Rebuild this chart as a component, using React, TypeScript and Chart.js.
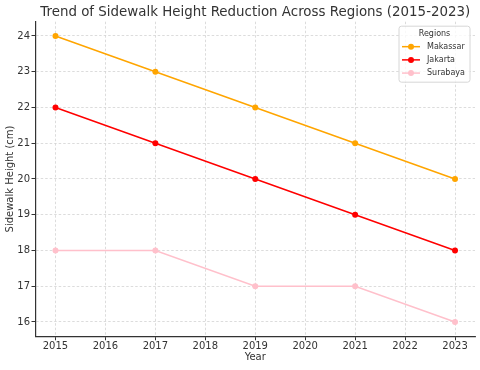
import React, { useEffect, useRef } from "react";
import { Chart, registerables } from "chart.js";

Chart.register(...registerables);

const years = [2015, 2017, 2019, 2021, 2023];
const makassar = [24, 23, 22, 21, 20];
const jakarta = [22, 21, 20, 19, 18];
const surabaya = [18, 18, 17, 17, 16];
const xTicks = [2015, 2016, 2017, 2018, 2019, 2020, 2021, 2022, 2023];
const yTicks = [16, 17, 18, 19, 20, 21, 22, 23, 24];
const seriesNames = ["Makassar", "Jakarta", "Surabaya"];
const seriesColors = ["#FFA500", "#FF0000", "#FFC0CB"];
const titleText = "Trend of Sidewalk Height Reduction Across Regions (2015-2023)";
const legendTitle = "Regions";

const FONT = "'DejaVu Sans', sans-serif";

const legendPlugin = {
  id: "mplLegend",
  afterDraw(chart: any) {
    const ctx = chart.ctx;
    const area = chart.chartArea;
    const w = 71;
    const h = 56;
    const x = area.right - 5 - w;
    const y = area.top + 4.5;
    ctx.save();
    ctx.beginPath();
    const r = 2.5;
    ctx.moveTo(x + r, y);
    ctx.lineTo(x + w - r, y);
    ctx.quadraticCurveTo(x + w, y, x + w, y + r);
    ctx.lineTo(x + w, y + h - r);
    ctx.quadraticCurveTo(x + w, y + h, x + w - r, y + h);
    ctx.lineTo(x + r, y + h);
    ctx.quadraticCurveTo(x, y + h, x, y + h - r);
    ctx.lineTo(x, y + r);
    ctx.quadraticCurveTo(x, y, x + r, y);
    ctx.closePath();
    ctx.fillStyle = "rgba(255,255,255,0.8)";
    ctx.fill();
    ctx.strokeStyle = "#d6d6d6";
    ctx.lineWidth = 1;
    ctx.stroke();

    ctx.font = `8px ${FONT}`;
    ctx.fillStyle = "#333";
    ctx.textBaseline = "middle";
    ctx.textAlign = "center";
    ctx.fillText(legendTitle, x + w / 2, y + 8);

    ctx.textAlign = "left";
    seriesNames.forEach((name, i) => {
      const cy = y + 20.5 + i * 13.2;
      const lx = x + 3;
      ctx.strokeStyle = seriesColors[i];
      ctx.lineWidth = 1.5;
      ctx.beginPath();
      ctx.moveTo(lx, cy);
      ctx.lineTo(lx + 18, cy);
      ctx.stroke();
      ctx.fillStyle = seriesColors[i];
      ctx.beginPath();
      ctx.arc(lx + 9, cy, 3, 0, Math.PI * 2);
      ctx.fill();
      ctx.fillStyle = "#333";
      ctx.fillText(name, lx + 25, cy);
    });
    ctx.restore();
  },
};

export default function App() {
  const ref = useRef<HTMLCanvasElement | null>(null);

  useEffect(() => {
    if (!ref.current) return;
    const allSeries = [makassar, jakarta, surabaya];
    const chart = new Chart(ref.current, {
      type: "line",
      data: {
        datasets: allSeries.map((vals, i) => ({
          label: seriesNames[i],
          data: years.map((yr, j) => ({ x: yr, y: vals[j] })),
          borderColor: seriesColors[i],
          backgroundColor: seriesColors[i],
          pointBackgroundColor: seriesColors[i],
          pointBorderWidth: 0,
          pointRadius: 3,
          borderWidth: 1.5,
          tension: 0,
          fill: false,
        })),
      },
      options: {
        animation: false,
        responsive: false,
        devicePixelRatio: 1,
        layout: { padding: { left: 0, right: 5, top: 0, bottom: 0 } },
        plugins: {
          legend: { display: false },
          tooltip: { enabled: false },
          title: {
            display: true,
            text: titleText,
            fullSize: false,
            color: "#333",
            font: { family: FONT, size: 13.4, weight: "normal", lineHeight: 1.2 },
            padding: { top: 4, bottom: 1.6 },
          },
        },
        scales: {
          x: {
            type: "linear",
            min: 2014.6,
            max: 2023.4,
            afterBuildTicks: (scale: any) => {
              scale.ticks = xTicks.map((v) => ({ value: v }));
            },
            afterFit: (scale: any) => {
              scale.height = 33.7;
            },
            ticks: {
              color: "#333",
              font: { family: FONT, size: 10 },
              padding: 0,
              maxRotation: 0,
              autoSkip: false,
              callback: (v: any) => String(v),
            },
            grid: {
              color: "#d3d3d3",
              lineWidth: 0.8,
              tickColor: "#333",
              tickLength: 4,
              tickWidth: 1,
              tickBorderDash: [],
            },
            border: { display: true, color: "#333", width: 1.2, dash: [2.5, 2] },
            title: {
              display: true,
              text: "Year",
              color: "#333",
              font: { family: FONT, size: 10, lineHeight: 1.2 },
              padding: { top: 0, bottom: 7 },
            },
          },
          y: {
            type: "linear",
            min: 15.6,
            max: 24.4,
            afterBuildTicks: (scale: any) => {
              scale.ticks = yTicks.map((v) => ({ value: v }));
            },
            afterFit: (scale: any) => {
              scale.width = 35.5;
            },
            ticks: {
              color: "#333",
              font: { family: FONT, size: 10 },
              padding: 1.5,
              autoSkip: false,
              callback: (v: any) => String(v),
            },
            grid: {
              color: "#d3d3d3",
              lineWidth: 0.8,
              tickColor: "#333",
              tickLength: 4,
              tickWidth: 1,
              tickBorderDash: [],
            },
            border: { display: true, color: "#333", width: 1.2, dash: [2.5, 2] },
            title: {
              display: true,
              text: "Sidewalk Height (cm)",
              color: "#333",
              font: { family: FONT, size: 10, lineHeight: 1.2 },
              padding: { top: 4, bottom: 0 },
            },
          },
        },
      },
      plugins: [legendPlugin],
    } as any);
    return () => chart.destroy();
  }, []);

  return (
    <div style={{ position: "fixed", left: 0, top: 0, width: 480, height: 370, background: "#fff" }}>
      <canvas ref={ref} width={480} height={370} style={{ display: "block", width: 480, height: 370 }} />
    </div>
  );
}
